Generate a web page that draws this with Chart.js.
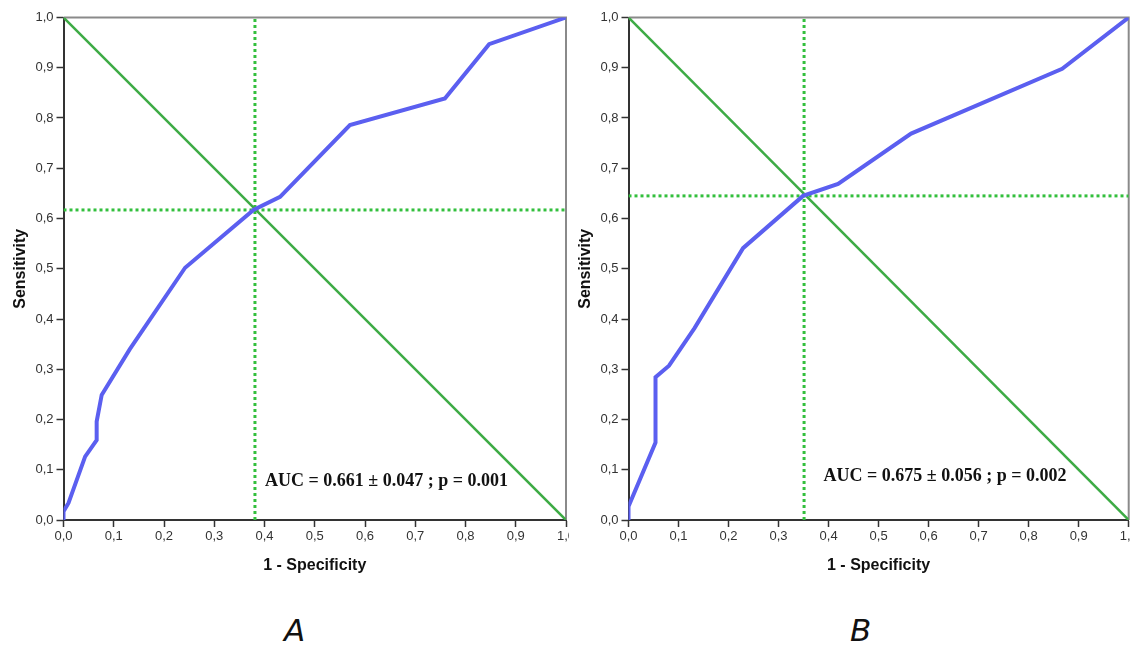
<!DOCTYPE html>
<html>
<head>
<meta charset="utf-8">
<script src="https://cdn.jsdelivr.net/npm/chart.js@4"></script>
<style>
  body { margin: 0; background: #fff; width: 1131px; height: 645px; overflow: hidden; position: relative; }
  .wrap { position: absolute; top: 0; height: 575px; }
  .panel { position: absolute; top: 612px; font-family: "DejaVu Sans", sans-serif; font-style: italic; font-size: 31px; color: #111; }
</style>
</head>
<body>
<div class="wrap" style="left:0;width:569px"><canvas id="rocA"></canvas></div>
<div class="wrap" style="left:565px;width:566px"><canvas id="rocB"></canvas></div>
<div class="panel" style="left:284px">A</div>
<div class="panel" style="left:850px">B</div>
<script>
// ROC curve A (1 - specificity, sensitivity)
const fprA = [0, 0, 0.010, 0.043, 0.066, 0.066, 0.076, 0.132, 0.242, 0.378, 0.431, 0.570, 0.759, 0.847, 1];
const tprA = [0, 0.017, 0.034, 0.126, 0.159, 0.196, 0.249, 0.340, 0.502, 0.617, 0.643, 0.786, 0.839, 0.947, 1];
const cutA = [0.381, 0.617];
const aucA = "AUC = 0.661 \u00b1 0.047 ; p = 0.001";

// ROC curve B
const fprB = [0, 0, 0.054, 0.054, 0.081, 0.132, 0.229, 0.349, 0.419, 0.565, 0.867, 1];
const tprB = [0, 0.027, 0.154, 0.284, 0.307, 0.382, 0.541, 0.645, 0.669, 0.769, 0.898, 1];
const cutB = [0.351, 0.645];
const aucB = "AUC = 0.675 \u00b1 0.056 ; p = 0.002";

// reference diagonal
const refX = [0, 1];
const refY = [1, 0];

const tickValues = [0, 0.1, 0.2, 0.3, 0.4, 0.5, 0.6, 0.7, 0.8, 0.9, 1];

const blue = "#5b5ff0";
const greenLine = "#3dab45";
const greenDot = "#33bf3d";

function toPoints(xs, ys) {
  return xs.map((x, i) => ({ x: x, y: ys[i] }));
}

function commaLabel(v) {
  return v.toFixed(1).replace(".", ",");
}

// grey frame on top and right, plus AUC note
const framePlugin = {
  id: "frame",
  beforeDatasetsDraw(chart) {
    const { ctx, chartArea: a } = chart;
    ctx.save();
    ctx.strokeStyle = "#8a8a8a";
    ctx.lineWidth = 2;
    ctx.beginPath();
    ctx.moveTo(a.left, a.top);
    ctx.lineTo(a.right, a.top);
    ctx.lineTo(a.right, a.bottom);
    ctx.stroke();
    ctx.restore();
  },
  afterDatasetsDraw(chart, args, opts) {
    const { ctx, scales } = chart;
    ctx.save();
    ctx.font = "bold 18px 'Liberation Serif', 'Times New Roman', serif";
    ctx.fillStyle = "#111";
    ctx.textBaseline = "middle";
    ctx.fillText(opts.text, scales.x.getPixelForValue(opts.at[0]), scales.y.getPixelForValue(opts.at[1]));
    ctx.restore();
  },
};

function makeRoc(id, fpr, tpr, cut, auc, aucAt, padRight) {
  const ctx = document.getElementById(id);
  return new Chart(ctx, {
    type: "scatter",
    data: {
      datasets: [
        {
          data: toPoints(fpr, tpr),
          showLine: true,
          borderColor: blue,
          borderWidth: 4,
          pointRadius: 0,
          order: 0,
        },
        {
          data: toPoints(refX, refY),
          showLine: true,
          borderColor: greenLine,
          borderWidth: 2.5,
          pointRadius: 0,
          order: 1,
        },
        {
          data: [{ x: cut[0], y: 0 }, { x: cut[0], y: 1 }],
          showLine: true,
          borderColor: greenDot,
          borderWidth: 3,
          borderDash: [3, 3],
          pointRadius: 0,
          order: 2,
        },
        {
          data: [{ x: 0, y: cut[1] }, { x: 1, y: cut[1] }],
          showLine: true,
          borderColor: greenDot,
          borderWidth: 3,
          borderDash: [3, 3],
          pointRadius: 0,
          order: 2,
        },
      ],
    },
    options: {
      responsive: true,
      maintainAspectRatio: false,
      animation: false,
      layout: { autoPadding: false, padding: { left: 0, top: 17.5, right: padRight, bottom: 0 } },
      plugins: {
        legend: { display: false },
        tooltip: { enabled: false },
        frame: { text: auc, at: aucAt },
      },
      scales: {
        x: {
          type: "linear",
          min: 0,
          max: 1,
          afterBuildTicks: (s) => { s.ticks = tickValues.map((v) => ({ value: v })); },
          afterFit: (s) => { s.height = 55; s.paddingLeft = 0; s.paddingRight = 0; },
          grid: { drawOnChartArea: false, drawTicks: true, tickLength: 7, tickColor: "#333", tickWidth: 1.5 },
          border: { color: "#333", width: 2 },
          ticks: {
            padding: 2,
            maxRotation: 0,
            autoSkip: false,
            color: "#333",
            font: { family: "'Liberation Sans', Arial, sans-serif", size: 13 },
            callback: (v) => commaLabel(v),
          },
          title: {
            display: true,
            text: "1 - Specificity",
            color: "#111",
            padding: 0,
            font: { family: "'Liberation Sans', Arial, sans-serif", size: 16, weight: "bold" },
          },
        },
        y: {
          type: "linear",
          min: 0,
          max: 1,
          afterBuildTicks: (s) => { s.ticks = tickValues.map((v) => ({ value: v })); },
          afterFit: (s) => { s.width = 63.5; s.paddingTop = 0; s.paddingBottom = 0; },
          grid: { drawOnChartArea: false, drawTicks: true, tickLength: 7, tickColor: "#333", tickWidth: 1.5 },
          border: { color: "#333", width: 2 },
          ticks: {
            padding: 3,
            autoSkip: false,
            color: "#333",
            font: { family: "'Liberation Sans', Arial, sans-serif", size: 13 },
            callback: (v) => commaLabel(v),
          },
          title: {
            display: true,
            text: "Sensitivity",
            color: "#111",
            padding: { top: 11, bottom: 0 },
            font: { family: "'Liberation Sans', Arial, sans-serif", size: 16, weight: "bold" },
          },
        },
      },
    },
    plugins: [framePlugin],
  });
}

makeRoc("rocA", fprA, tprA, cutA, aucA, [0.401, 0.076], 3);
makeRoc("rocB", fprB, tprB, cutB, aucB, [0.39, 0.086], 2.3);
</script>
</body>
</html>
